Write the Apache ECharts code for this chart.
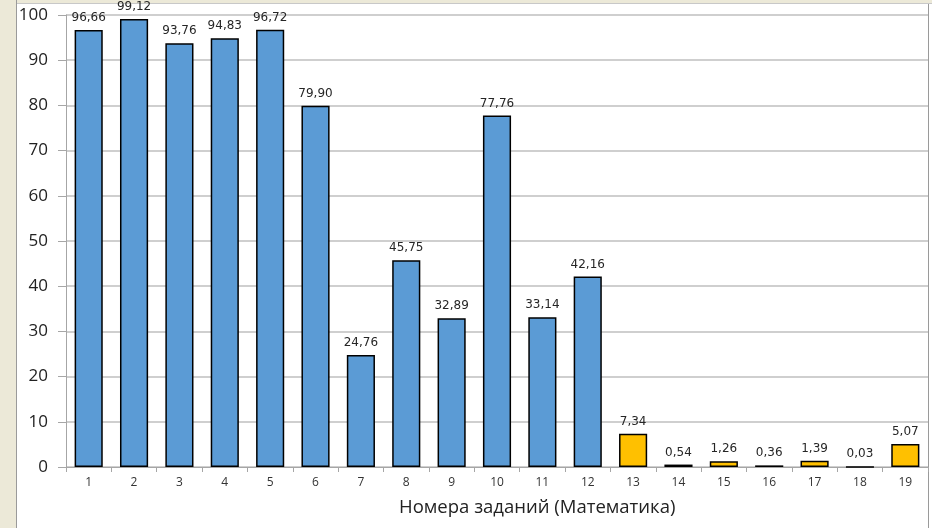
<!DOCTYPE html>
<html>
<head>
<meta charset="utf-8">
<script src="https://cdn.jsdelivr.net/npm/echarts@6/dist/echarts.min.js"></script>
<style>
html,body{margin:0;padding:0;background:#fff;}
#frameL{position:absolute;left:0;top:0;width:16px;height:528px;background:#ECE9D8;border-right:1px solid #9a9a9a;}
#frameT{position:absolute;left:0;top:0;width:932px;height:3px;background:#ECE9D8;border-bottom:1px solid #c8c8c8;}
#frameR{position:absolute;left:928px;top:4px;width:1px;height:524px;background:#9a9a9a;}
#chart{position:absolute;left:0;top:0;width:932px;height:528px;}
</style>
</head>
<body>
<div id="frameT"></div>
<div id="frameL"></div>
<div id="frameR"></div>
<div id="chart"></div>
<script>
const categories = ['1','2','3','4','5','6','7','8','9','10','11','12','13','14','15','16','17','18','19'];
const values = [96.66, 99.12, 93.76, 94.83, 96.72, 79.90, 24.76, 45.75, 32.89, 77.76, 33.14, 42.16, 7.34, 0.54, 1.26, 0.36, 1.39, 0.03, 5.07];
const yTicks = [0, 10, 20, 30, 40, 50, 60, 70, 80, 90, 100];
const blueCount = 12;
const axisTitle = 'Номера заданий (Математика)';

const chart = echarts.init(document.getElementById('chart'), null, {renderer: 'canvas'});
const option = {
  animation: false,
  backgroundColor: 'transparent',
  grid: {left: 66, right: 4, top: 15, bottom: 61, containLabel: false},
  graphic: [{
    type: 'text',
    left: 399,
    top: 498,
    style: {text: axisTitle, fill: '#222', font: '18.5px "Open Sans"'}
  }],
  xAxis: {
    type: 'category',
    data: categories,
    boundaryGap: true,
    axisLine: {show: true, lineStyle: {color: '#a6a6a6', width: 1}},
    axisTick: {show: true, alignWithLabel: false, length: 5, lineStyle: {color: '#a6a6a6'}},
    axisLabel: {color: '#333', fontSize: 12, fontFamily: 'Open Sans', margin: 10}
  },
  yAxis: {
    type: 'value',
    min: yTicks[0],
    max: yTicks[yTicks.length - 1],
    interval: 10,
    axisLine: {show: true, lineStyle: {color: '#a6a6a6', width: 1}},
    axisTick: {show: true, length: 8, lineStyle: {color: '#a6a6a6'}},
    axisLabel: {color: '#222', fontSize: 17, fontFamily: 'Open Sans', margin: 18},
    splitLine: {show: true, lineStyle: {color: '#bfbfbf', width: 1.5}}
  },
  series: [{
    type: 'bar',
    data: values.map((v, i) => ({
      value: v,
      itemStyle: {color: i < blueCount ? '#5B9BD5' : '#FFC000'}
    })),
    barWidth: '62%',
    itemStyle: {borderColor: '#000', borderWidth: 1.5},
    label: {
      show: true,
      position: 'top',
      distance: 6,
      color: '#262626',
      fontSize: 12,
      fontFamily: 'DejaVu Sans',
      formatter: p => p.value.toFixed(2).replace('.', ',')
    }
  }]
};
chart.setOption(option);
</script>
</body>
</html>
